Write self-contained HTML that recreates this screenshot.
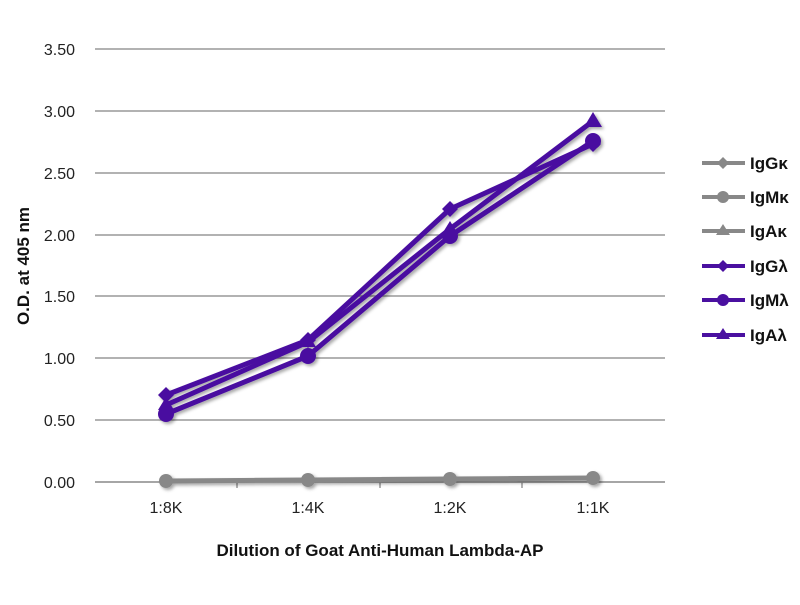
<!DOCTYPE html>
<html><head><meta charset="utf-8"><style>body{margin:0;background:#fff}</style></head><body>
<svg width="800" height="600" xmlns="http://www.w3.org/2000/svg" font-family="Liberation Sans, sans-serif">
<defs><filter id="sh" x="-10%" y="-10%" width="130%" height="130%"><feDropShadow dx="2" dy="2" stdDeviation="1.5" flood-color="#000" flood-opacity="0.35"/></filter></defs>
<g stroke="#999" stroke-width="1.5">
<line x1="95" y1="49" x2="665" y2="49"/><line x1="95" y1="111" x2="665" y2="111"/><line x1="95" y1="173" x2="665" y2="173"/><line x1="95" y1="235" x2="665" y2="235"/><line x1="95" y1="296" x2="665" y2="296"/><line x1="95" y1="358" x2="665" y2="358"/><line x1="95" y1="420" x2="665" y2="420"/>
<line x1="95" y1="482" x2="665" y2="482" stroke="#888"/>
<line x1="237" y1="482" x2="237" y2="488"/><line x1="380" y1="482" x2="380" y2="488"/><line x1="522" y1="482" x2="522" y2="488"/>
</g>
<g font-size="16" fill="#222" text-anchor="end">
<text x="75" y="55">3.50</text><text x="75" y="117">3.00</text><text x="75" y="179">2.50</text><text x="75" y="241">2.00</text><text x="75" y="302">1.50</text><text x="75" y="364">1.00</text><text x="75" y="426">0.50</text><text x="75" y="488">0.00</text>
</g>
<g font-size="16" fill="#222" text-anchor="middle">
<text x="166" y="513">1:8K</text><text x="308" y="513">1:4K</text><text x="450" y="513">1:2K</text><text x="593" y="513">1:1K</text>
</g>
<text x="380" y="556" font-size="17" font-weight="bold" text-anchor="middle" fill="#111">Dilution of Goat Anti-Human Lambda-AP</text>
<text transform="translate(29,266) rotate(-90)" font-size="17" font-weight="bold" text-anchor="middle" fill="#111">O.D. at 405 nm</text>
<g filter="url(#sh)">
<polyline points="166,481 308,480 450,479 593,478" fill="none" stroke="#888" stroke-width="5"/>
<circle cx="166" cy="481" r="7" fill="#888"/><circle cx="308" cy="480" r="7" fill="#888"/><circle cx="450" cy="479" r="7" fill="#888"/><circle cx="593" cy="478" r="7" fill="#888"/>
<g fill="none" stroke="#4a10a0" stroke-width="5" stroke-linejoin="round">
<polyline points="166,395 308,340 450,209 593,144"/>
<polyline points="166,414 308,356 450,236 593,141"/>
<polyline points="166,405 308,342 450,229 593,121"/>
</g>
<g fill="#4a10a0">
<path d="M166,387 l8,8 -8,8 -8,-8z"/><path d="M308,332 l8,8 -8,8 -8,-8z"/><path d="M450,201 l8,8 -8,8 -8,-8z"/><path d="M593,136 l8,8 -8,8 -8,-8z"/>
<circle cx="166" cy="414" r="8"/><circle cx="308" cy="356" r="8"/><circle cx="450" cy="236" r="8"/><circle cx="593" cy="141" r="8"/>
<path d="M166,397 l8,13 -16,0z"/><path d="M308,334 l8,13 -16,0z"/><path d="M450,221 l8,13 -16,0z"/><path d="M593,112 l9,15 -18,0z"/>
</g>
</g>
<g font-size="17" font-weight="bold" fill="#111">
<line x1="702" y1="163" x2="745" y2="163" stroke="#888" stroke-width="4"/><path d="M723,157 l6,6 -6,6 -6,-6z" fill="#888"/><text x="750" y="169">IgGκ</text>
<line x1="702" y1="197" x2="745" y2="197" stroke="#888" stroke-width="4"/><circle cx="723" cy="197" r="6" fill="#888"/><text x="750" y="203">IgMκ</text>
<line x1="702" y1="231" x2="745" y2="231" stroke="#888" stroke-width="4"/><path d="M723,224 l7,11 -14,0z" fill="#888"/><text x="750" y="237">IgAκ</text>
<line x1="702" y1="266" x2="745" y2="266" stroke="#4a10a0" stroke-width="4"/><path d="M723,260 l6,6 -6,6 -6,-6z" fill="#4a10a0"/><text x="750" y="272">IgGλ</text>
<line x1="702" y1="300" x2="745" y2="300" stroke="#4a10a0" stroke-width="4"/><circle cx="723" cy="300" r="6" fill="#4a10a0"/><text x="750" y="306">IgMλ</text>
<line x1="702" y1="335" x2="745" y2="335" stroke="#4a10a0" stroke-width="4"/><path d="M723,328 l7,11 -14,0z" fill="#4a10a0"/><text x="750" y="341">IgAλ</text>
</g>
</svg>
</body></html>
